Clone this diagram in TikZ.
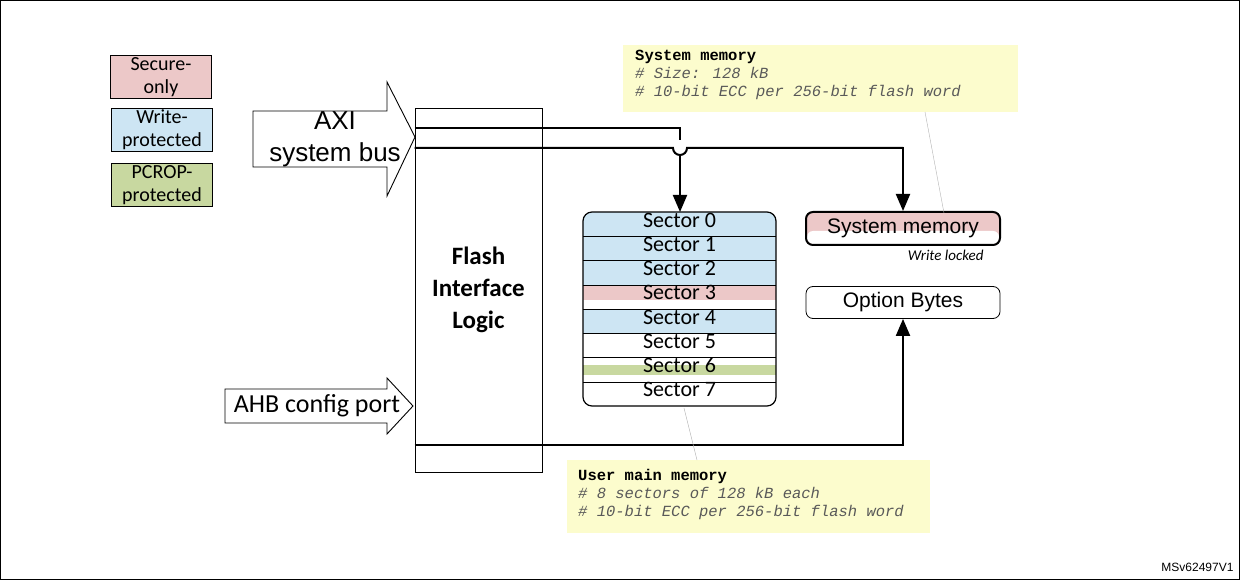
\documentclass[tikz,border=0pt]{standalone}
\usepackage{fontspec}
\setmainfont{Carlito}
\newfontfamily\arialfont{Liberation Sans}
\newfontfamily\courfont{Liberation Mono}
\usetikzlibrary{arrows.meta,positioning}
\definecolor{securepink}{RGB}{236,200,200}
\definecolor{wpblue}{RGB}{205,229,243}
\definecolor{pcgreen}{RGB}{200,216,160}
\definecolor{noteyellow}{RGB}{252,252,205}
\tikzset{
  legend/.style = {draw, thick, minimum width=101pt, minimum height=43pt,
                   inner sep=0pt, align=center, font=\fontsize{20}{23}\selectfont},
  memblock/.style = {draw, thick, rounded corners=7pt, minimum width=194pt,
                     minimum height=32pt, font=\arialfont\fontsize{21}{22}\selectfont},
  bus/.style = {line width=2pt},
  busarrow/.style = {bus, -{Triangle[length=17pt,width=14pt]}},
  note/.style = {fill=noteyellow, anchor=north west, align=left, inner sep=0pt},
  leader/.style = {draw=gray!60},
  bigarrow/.style = {draw, line width=0.9pt, fill=white}
}
\newcommand{\cmt}[1]{\textcolor{black!65}{\textit{#1}}}
\begin{document}
\begin{tikzpicture}[x=1pt,y=-1pt]
\draw (0.5,0.5) rectangle (1239.5,579.5);
\useasboundingbox (0,0) rectangle (1240,580);
% legend
\node[legend, fill=securepink] (secure) at (161,77) {Secure-\\only};
\node[legend, fill=wpblue] (wprot) at (162,130) {Write-\\protected};
\node[legend, fill=pcgreen] (pcrop) at (162,185) {PCROP-\\protected};
% flash interface logic
\node[draw, thick, minimum width=127pt, minimum height=364pt, align=center,
      font=\bfseries\fontsize{25}{32}\selectfont] (fil) at (478.5,290) {Flash\\Interface\\Logic};
% input arrows
\draw[bigarrow] (253,111) -- (387,111) -- (387,82) -- (415,137) -- (387,196)
  -- (387,167) -- (253,167) -- cycle;
\node[font=\arialfont\fontsize{26}{32}\selectfont, align=center] (axi) at (335,139) {AXI\\system bus};
\draw[bigarrow] (225,389) -- (387,389) -- (387,378) -- (413,406) -- (387,434)
  -- (387,423) -- (225,423) -- cycle;
\node[font=\fontsize{26}{28}\selectfont] (ahb) at (317,406) {AHB config port};
% user main memory
\begin{scope}
  \clip[rounded corners=9pt] (583,212) rectangle (776,406);
  \foreach \i/\c in {0/wpblue,1/wpblue,2/wpblue,4/wpblue}
    \fill[\c] (583,212+24.25*\i) rectangle (776,212+24.25*\i+24.25);
  \fill[securepink] (583,212+24.25*3) rectangle (776,212+24.25*3+15);
  \fill[pcgreen] (583,212+24.25*6+7) rectangle (776,212+24.25*6+17);
\end{scope}
\foreach \i in {1,...,7}
  \draw (583,212+24.25*\i) -- (776,212+24.25*\i);
\draw[line width=1.2pt, rounded corners=9pt] (583,212) rectangle (776,406);
\foreach \i in {0,...,7}
  \node[font=\fontsize{22}{23}\selectfont] (sec\i) at (679.5,220+24.25*\i) {Sector \i};
\coordinate (usertop) at (680,212);
% system memory and option bytes
\fill[securepink, rounded corners=6pt] (806,212) rectangle (1000,245);
\fill[white, rounded corners=6pt] (807,231) rectangle (999,244);
\node[memblock, line width=2pt, minimum height=33pt] (sysmem) at (903,228.5) {System memory};
\node[font=\itshape\fontsize{15}{16}\selectfont, below left=1pt and 14pt of sysmem.south east, anchor=north east] (wlock) {Write locked};
\node[memblock] (optb) at (903,302.5) {Option Bytes};
% buses
\draw[bus] (fil.west |- 0,128) -- (680,128) -- (680,140);
\draw[busarrow] (680,156) -- (usertop);
\draw[bus] (fil.west |- 0,148) -- (673,148) arc[start angle=180, end angle=0, radius=7] -- (903,148);
\draw[busarrow] (903,147) -- (sysmem.north);
\draw[busarrow] (fil.west |- 0,445) -- (903,445) -- (optb.south);
% notes
\node[note, minimum width=395pt, minimum height=67pt] (sysnote) at (623,45) {};
\node[anchor=north west, align=left, inner sep=0pt, font=\courfont\fontsize{15.5}{18}\selectfont]
  at (635,50) {\textbf{System memory}\\\cmt{\# Size: 128 kB}\\\cmt{\# 10-bit ECC per 256-bit flash word}};
\draw[leader] (925,112) -- (944,213);
\node[note, minimum width=363pt, minimum height=73pt] (usernote) at (567,460) {};
\node[anchor=north west, align=left, inner sep=0pt, font=\courfont\fontsize{15.5}{18}\selectfont]
  at (578,469) {\textbf{User main memory}\\\cmt{\# 8 sectors of 128 kB each}\\\cmt{\# 10-bit ECC per 256-bit flash word}};
\draw[leader] (684,408) -- (697,460);
\node[font=\arialfont\fontsize{12}{13}\selectfont, anchor=south east] (ref) at (1237,575) {MSv62497V1};
\end{tikzpicture}
\end{document}
